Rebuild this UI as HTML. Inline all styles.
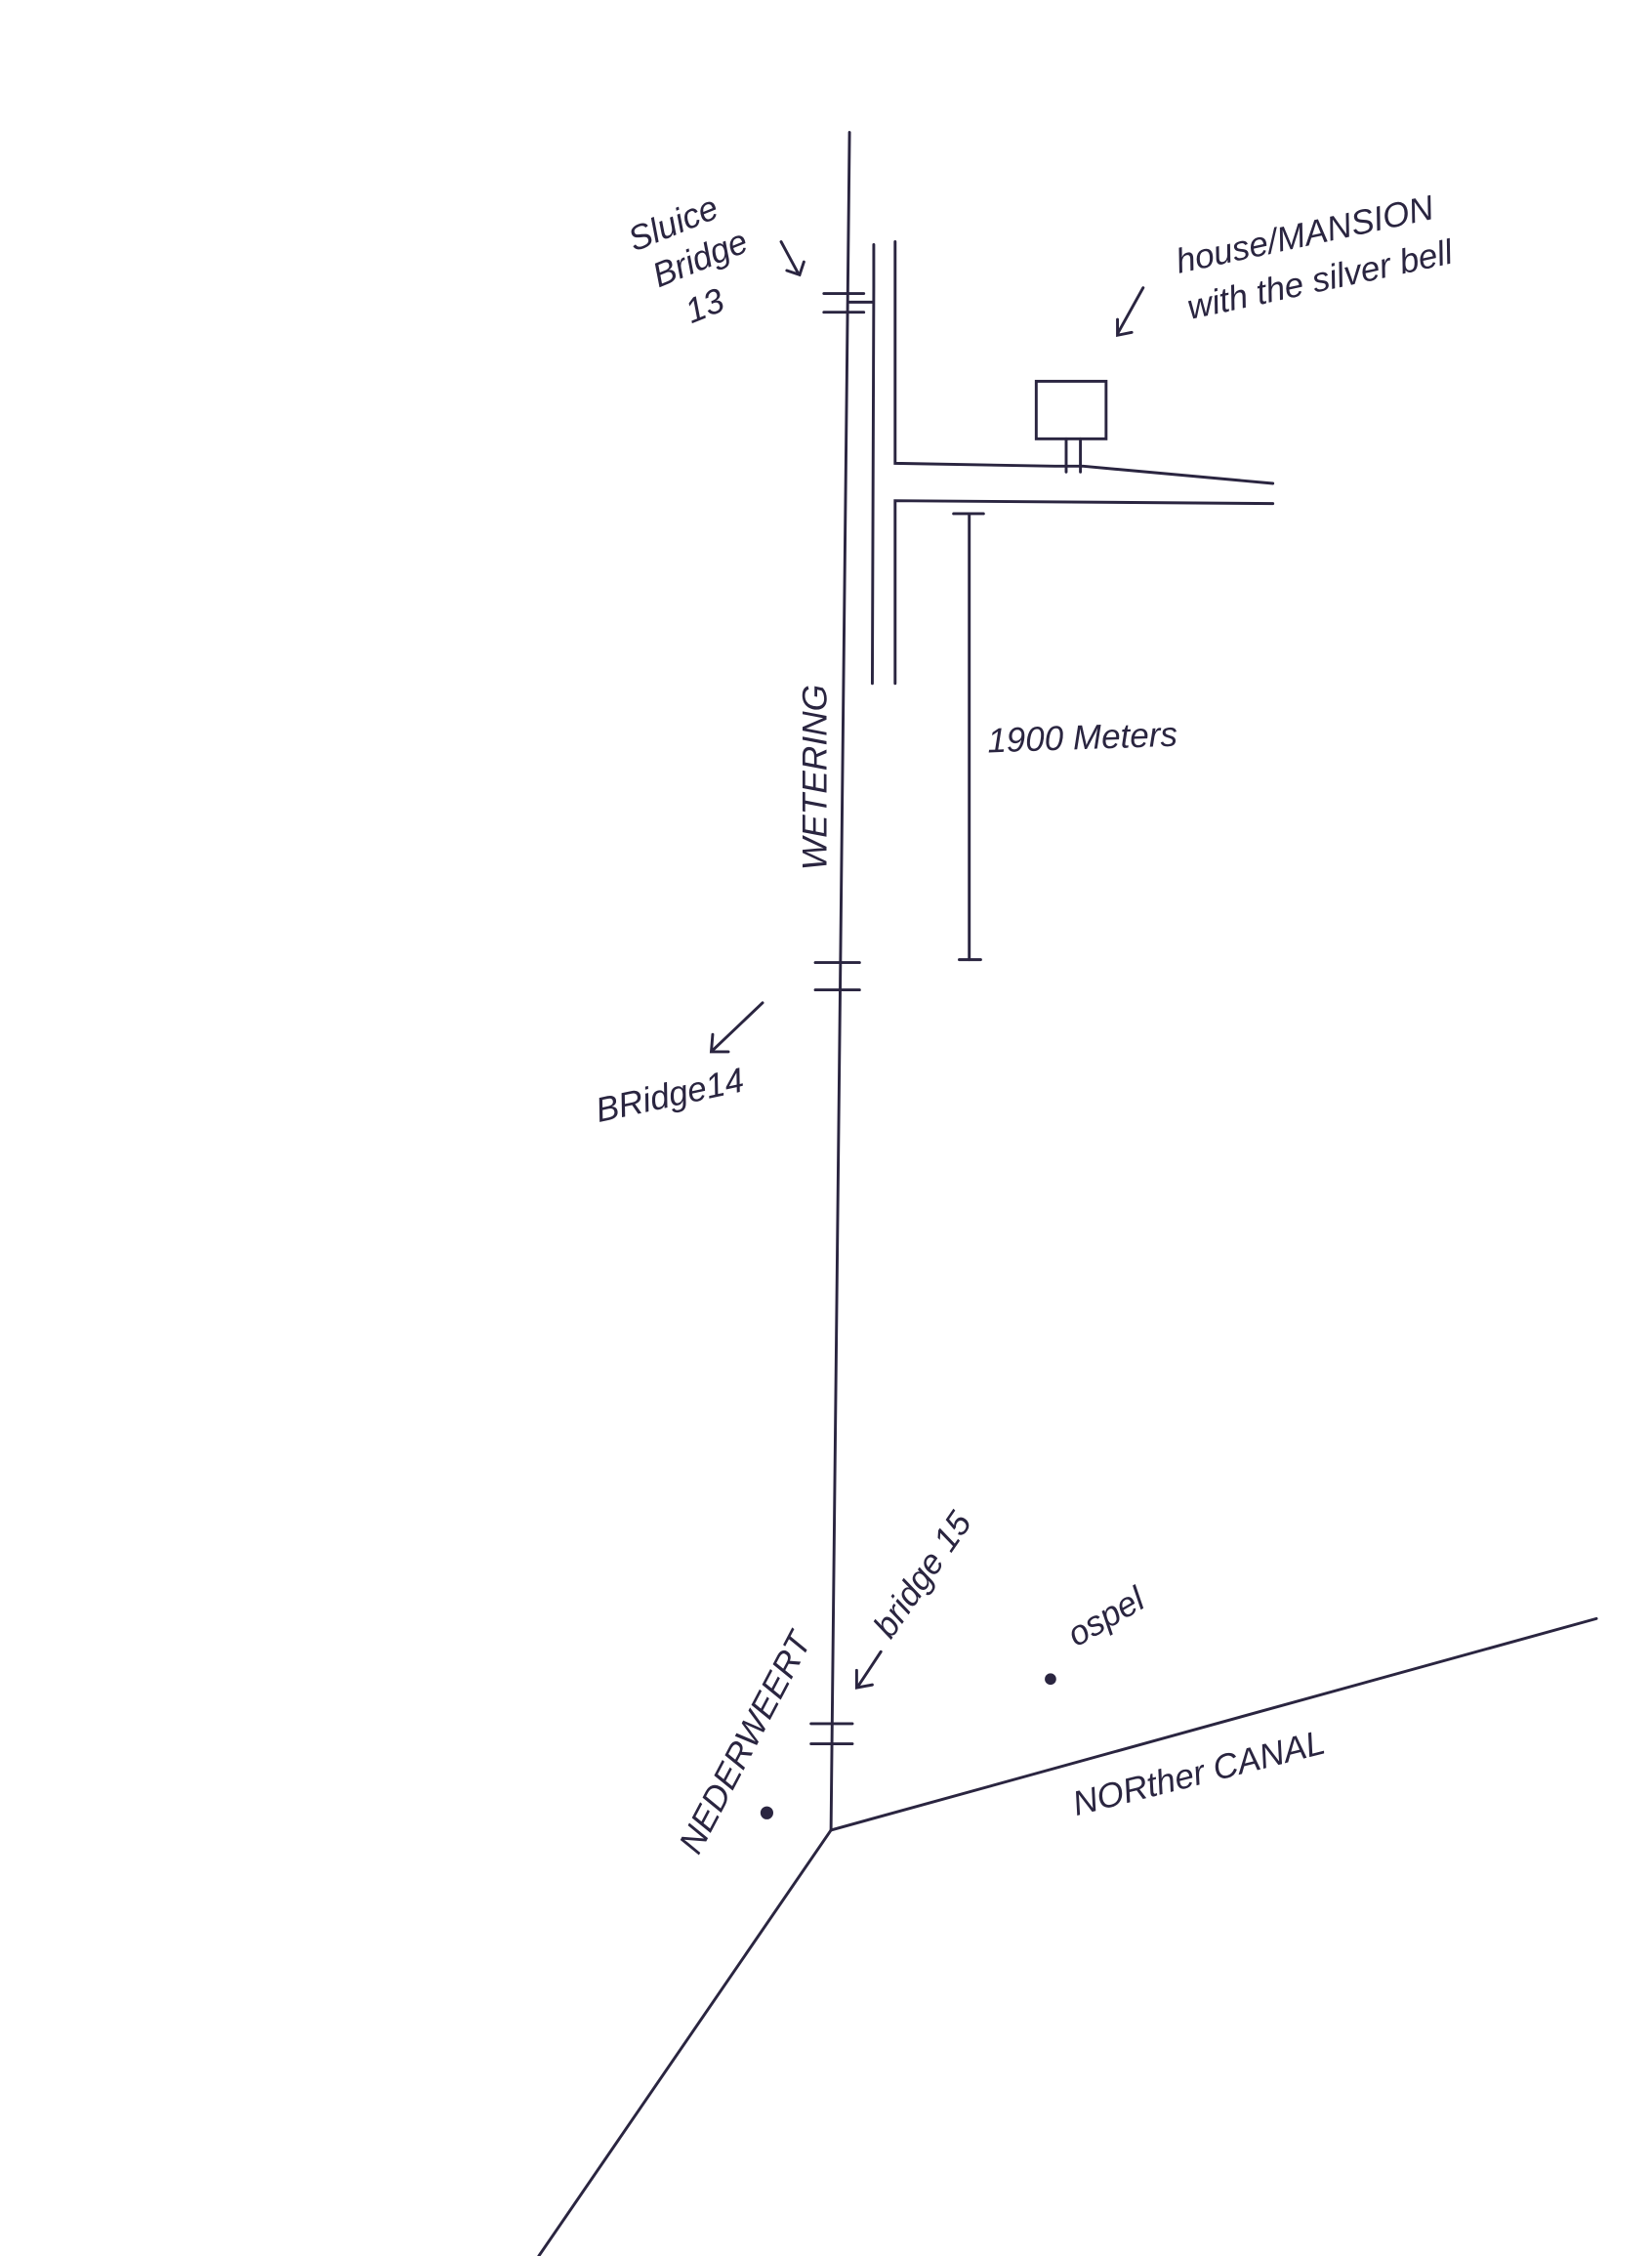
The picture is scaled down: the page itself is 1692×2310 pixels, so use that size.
<!DOCTYPE html>
<html><head><meta charset="utf-8"><style>
html,body{margin:0;padding:0;background:#fff;}
svg{display:block;}
text{font-family:"Liberation Sans",sans-serif;font-style:italic;fill:#2a2540;}
</style></head><body>
<svg width="1692" height="2310" viewBox="0 0 1159 1568" preserveAspectRatio="none" xmlns="http://www.w3.org/2000/svg">
<rect width="1159" height="1568" fill="#fff"/>
<g stroke="#2a2540" stroke-width="2" fill="none" stroke-linecap="round">
<!-- main canal -->
<line x1="596" y1="92" x2="583" y2="1272"/>
<line x1="583" y1="1272" x2="378" y2="1568"/>
<line x1="583" y1="1272" x2="1120" y2="1125"/>
<!-- bridge 13 -->
<line x1="578" y1="204" x2="606" y2="204"/>
<line x1="578" y1="217" x2="606" y2="217"/>
<line x1="596" y1="210" x2="612" y2="210"/>
<!-- bridge 14 -->
<line x1="572" y1="669" x2="603" y2="669"/>
<line x1="572" y1="688" x2="603" y2="688"/>
<!-- bridge 15 -->
<line x1="569" y1="1198" x2="598" y2="1198"/>
<line x1="569" y1="1212" x2="598" y2="1212"/>
<!-- road -->
<polyline points="613,170 613,200 612,475"/>
<polyline points="628,168 628,322 740,324 760,324 893,336"/>
<polyline points="628,475 628,348 893,350"/>
<!-- house -->
<rect x="727" y="265" width="49" height="40"/>
<line x1="748" y1="305" x2="748" y2="328"/>
<line x1="758" y1="305" x2="758" y2="328"/>
<!-- scale -->
<line x1="680" y1="357" x2="680" y2="667"/>
<line x1="669" y1="357" x2="690" y2="357"/>
<line x1="673" y1="667" x2="688" y2="667"/>
<!-- arrows -->
<path d="M548,168 L560,190 M552,188 L561,191 L564,182"/>
<path d="M802,200 L784,232 M784,222 L784,233 L794,231"/>
<path d="M535,697 L500,730 M500,719 L499,731 L511,731"/>
<path d="M618,1148 L602,1172 M601,1161 L601,1173 L612,1171"/>
</g>
<circle cx="538" cy="1260" r="4.5" fill="#2a2540"/>
<circle cx="737" cy="1167" r="4" fill="#2a2540"/>
<g font-size="24">
<text transform="translate(445,175) rotate(-22)">Sluice</text>
<text transform="translate(462,200) rotate(-22)">Bridge</text>
<text transform="translate(485,225) rotate(-22)">13</text>
<text transform="translate(827,190) rotate(-12)">house/MANSION</text>
<text transform="translate(835,222) rotate(-12)">with the silver bell</text>
<text transform="translate(693,523) rotate(-2)">1900 Meters</text>
<text transform="translate(580,605) rotate(-90)">WETERING</text>
<text transform="translate(420,780) rotate(-12)">BRidge14</text>
<text transform="translate(625,1140) rotate(-55)">bridge 15</text>
<text transform="translate(755,1145) rotate(-30)">ospel</text>
<text transform="translate(490,1290) rotate(-62)">NEDERWEERT</text>
<text transform="translate(755,1262) rotate(-14)">NORther CANAL</text>
</g>
</svg>
</body></html>
